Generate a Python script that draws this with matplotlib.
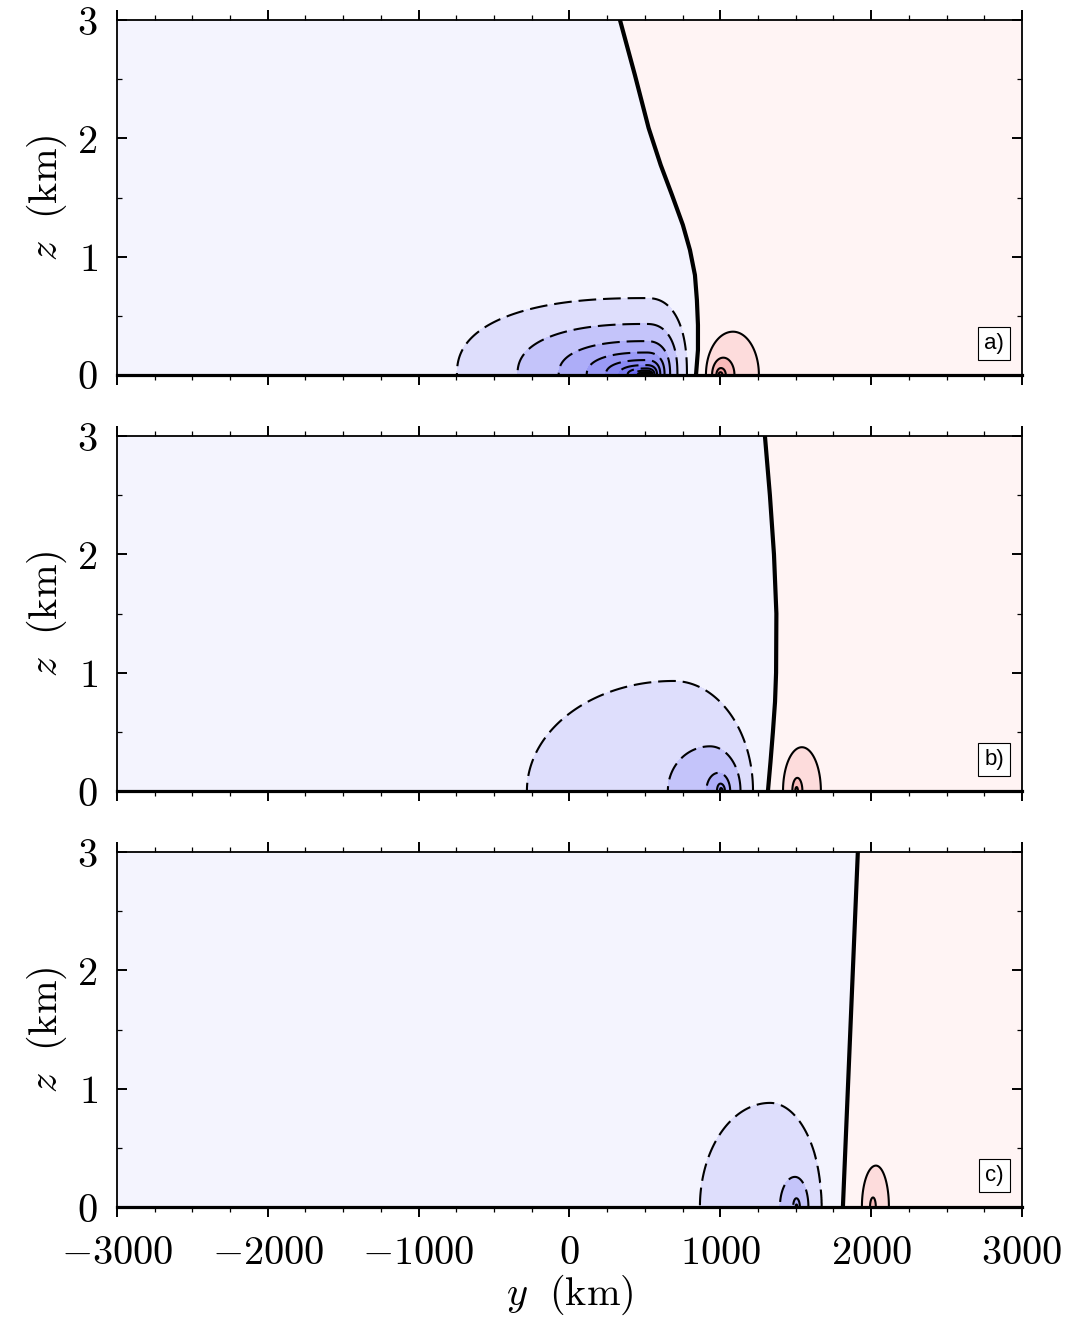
import numpy as np
import matplotlib
matplotlib.use('Agg')
import matplotlib.pyplot as plt
from matplotlib.ticker import MultipleLocator, FuncFormatter, FixedLocator

plt.rcParams['mathtext.fontset'] = 'cm'
plt.rcParams['font.family'] = ['DejaVu Serif']

# ---------------- data ----------------
panel_labels = ['a)', 'b)', 'c)']
y_ticks = [-3000, -2000, -1000, 0, 1000, 2000, 3000]
z_ticks = [0, 1, 2, 3]

# thick zero contour (heights in km, positions in km)
zero_z_a = [0.0, 0.211, 0.423, 0.634, 0.845, 1.056, 1.268, 1.521, 1.775, 2.087, 2.535, 3.0]
zero_y_a = [839, 852, 852, 845, 832, 799, 752, 680, 605, 525, 434, 335]
zero_z_b = [0.0, 0.246, 0.5, 0.754, 1.0, 1.5, 2.0, 2.5, 3.0]
zero_y_b = [1316, 1333, 1349, 1363, 1370, 1372, 1356, 1329, 1296]
zero_z_c = [0.0, 1.0, 2.0, 3.0]
zero_y_c = [1813, 1846, 1879, 1912]

# negative (dashed) anomaly per panel
neg_center = [510, 1005, 1505]
neg_left = [1256, 972, 465]
neg_right = [269, 527, 344]
neg_top = [0.65, 0.93, 0.88]
neg_shift = [0, -315, -175]
neg_power = [2.4, 2.0, 2.0]
neg_exp_left = [1.08, 1.8, 1.28]
neg_exp_right = [0.75, 1.38, 1.12]
neg_exp_top = [1.15, 1.3, 1.03]
neg_exp_shift = [1.0, 2.1, 2.38]
neg_ratio = [0.7, 0.5, 0.3]
neg_nlev = [11, 5, 4]

# positive (solid) anomaly per panel
pos_center = [1000, 1505, 2010]
pos_left = [179, 125, 93]
pos_right = [172, 126, 86]
pos_top = [0.366, 0.37, 0.35]
pos_shift = [84, 36, 22]
pos_power = [2.0, 2.0, 2.0]
pos_exp_left = [0.96, 1.1, 1.11]
pos_exp_right = [0.92, 1.1, 1.11]
pos_exp_top = [1.0, 1.0, 1.06]
pos_exp_shift = [1.57, 1.5, 1.5]
pos_ratio = [0.4, 0.3, 0.25]
pos_nlev = [4, 3, 2]

# ---------------- styles ----------------
neg_bg = '#f4f4fe'
pos_bg = '#fff4f4'
neg_colors = ['#dedefc', '#c4c4fa', '#adadf8', '#9a9af6', '#8a8af4', '#7c7cf2',
              '#7070f0', '#6666ef', '#5c5cee', '#5454ed', '#4c4cec']
pos_colors = ['#fddcdc', '#f8baba', '#f29898', '#ec7878']


def blob_level(Y, Z, yc, L, R, T, H, p, eL, eR, eT, eH, ratio):
    dy = Y - yc
    lo = np.full(Y.shape, -15.0)
    hi = np.full(Y.shape, 0.3)
    for _ in range(45):
        t = 0.5 * (lo + hi)
        rho = np.exp(t)
        v = Z / (T * rho ** eT)
        d = dy - H * rho ** eH
        X = np.where(d < 0, L * rho ** eL, R * rho ** eR)
        h = np.abs(d / X) ** p + v ** p
        outside = h > 1
        lo = np.where(outside, t, lo)
        hi = np.where(outside, hi, t)
    t = 0.5 * (lo + hi)
    return t / np.log(ratio)


def draw_blob(ax, yc, L, R, T, H, p, eL, eR, eT, eH, ratio, nlev, colors, ls):
    y = np.linspace(yc + H - 1.3 * L, yc + H + 1.3 * R, 1400)
    z = np.linspace(0, 1.3 * T, 700)
    Y, Z = np.meshgrid(y, z)
    V = blob_level(Y, Z, yc, L, R, T, H, p, eL, eR, eT, eH, ratio)
    levels = list(range(nlev)) + [1e6]
    ax.contourf(Y, Z, V, levels=levels, colors=colors[:nlev], zorder=1)
    ax.contour(Y, Z, V, levels=list(range(nlev)), colors='k', linewidths=1.5,
               linestyles=[ls] * nlev, zorder=2)


fig = plt.figure(figsize=(10.72, 13.19), dpi=100)
bottoms = [0.7157, 0.4003, 0.0849]
zero_lines = [(zero_z_a, zero_y_a), (zero_z_b, zero_y_b), (zero_z_c, zero_y_c)]
dash = (0, (8.5, 3.3))
fmt = FuncFormatter(lambda v, p: f'${int(round(v))}$')

for i in range(3):
    ax = fig.add_axes([0.1091, bottoms[i], 0.8442, 0.2691])
    zz, yy = zero_lines[i]
    ax.fill_betweenx(zz, -3000, yy, color=neg_bg, lw=0, zorder=0)
    ax.fill_betweenx(zz, yy, 3000, color=pos_bg, lw=0, zorder=0)
    draw_blob(ax, neg_center[i], neg_left[i], neg_right[i], neg_top[i], neg_shift[i],
              neg_power[i], neg_exp_left[i], neg_exp_right[i], neg_exp_top[i],
              neg_exp_shift[i], neg_ratio[i], neg_nlev[i], neg_colors, dash)
    draw_blob(ax, pos_center[i], pos_left[i], pos_right[i], pos_top[i], pos_shift[i],
              pos_power[i], pos_exp_left[i], pos_exp_right[i], pos_exp_top[i],
              pos_exp_shift[i], pos_ratio[i], pos_nlev[i], pos_colors, 'solid')
    ax.plot(yy, zz, color='k', lw=3, zorder=3, solid_joinstyle='round')

    ax.set_xlim(-3000, 3000)
    ax.set_ylim(0, 3)
    ax.xaxis.set_major_locator(FixedLocator(y_ticks))
    ax.xaxis.set_minor_locator(MultipleLocator(250))
    ax.yaxis.set_major_locator(FixedLocator(z_ticks))
    ax.yaxis.set_minor_locator(MultipleLocator(0.5))
    ax.tick_params(axis='x', which='both', direction='out', top=True, bottom=True)
    ax.tick_params(axis='y', which='both', direction='in', left=True, right=True, pad=14)
    ax.tick_params(which='major', length=7, width=1.4, labelsize=29)
    ax.tick_params(which='minor', length=3.5, width=0.9)
    ax.tick_params(axis='x', pad=13)
    ax.xaxis.set_major_formatter(fmt)
    ax.yaxis.set_major_formatter(fmt)
    for s in ['top', 'left', 'right']:
        ax.spines[s].set_linewidth(1.3)
    ax.spines['bottom'].set_linewidth(2.3)
    for s in ax.spines.values():
        s.set_zorder(5)
    ax.set_ylabel(r'$z\ \ (\mathrm{km})$', fontsize=29, labelpad=6)
    if i < 2:
        ax.tick_params(axis='x', labelbottom=False)
    else:
        ax.set_xlabel(r'$y\ \ (\mathrm{km})$', fontsize=29, labelpad=1)
    ax.text(0.980, 0.059, panel_labels[i], transform=ax.transAxes, ha='right', va='bottom',
            fontsize=16, family='Liberation Sans', zorder=6,
            bbox=dict(boxstyle='square,pad=0.28', fc='white', ec='black', lw=0.8))

fig.savefig('out.png', dpi=100)
